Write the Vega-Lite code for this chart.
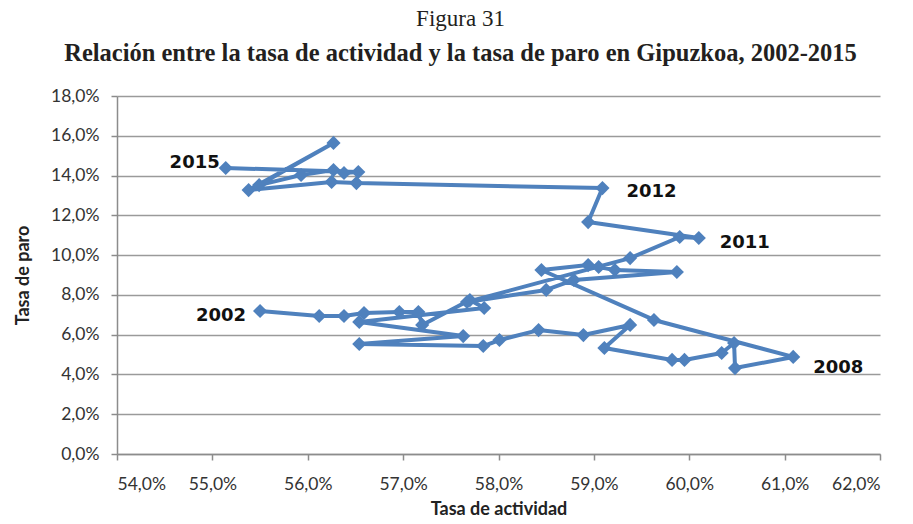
{
  "$schema": "https://vega.github.io/schema/vega-lite/v6.json",
  "autosize": "none",
  "width": 763,
  "height": 358,
  "padding": {"left": 117, "top": 96, "right": 33, "bottom": 70},
  "background": "white",
  "title": {
    "text": "Figura 31",
    "subtitle": "Relación entre la tasa de actividad y la tasa de paro en Gipuzkoa, 2002-2015",
    "anchor": "middle",
    "frame": "group",
    "dx": -38,
    "offset": 22,
    "font": "Liberation Serif",
    "fontSize": 23,
    "fontWeight": "normal",
    "color": "#231f20",
    "subtitleFont": "Liberation Serif",
    "subtitleFontSize": 24.5,
    "subtitleFontWeight": "bold",
    "subtitleColor": "#231f20",
    "subtitlePadding": 11
  },
  "data": {
    "values": [
      {"o": 1, "x": 55.50, "y": 7.19, "label": "2002"},
      {"o": 2, "x": 56.12, "y": 6.94},
      {"o": 3, "x": 56.38, "y": 6.94},
      {"o": 4, "x": 56.59, "y": 7.09},
      {"o": 5, "x": 56.96, "y": 7.14},
      {"o": 6, "x": 57.16, "y": 7.14},
      {"o": 7, "x": 57.20, "y": 6.49},
      {"o": 8, "x": 57.70, "y": 7.74},
      {"o": 9, "x": 57.85, "y": 7.34},
      {"o": 10, "x": 56.54, "y": 6.64},
      {"o": 11, "x": 57.63, "y": 5.93},
      {"o": 12, "x": 56.54, "y": 5.53},
      {"o": 13, "x": 57.84, "y": 5.43},
      {"o": 14, "x": 58.01, "y": 5.73},
      {"o": 15, "x": 58.42, "y": 6.23},
      {"o": 16, "x": 58.89, "y": 5.98},
      {"o": 17, "x": 59.38, "y": 6.49},
      {"o": 18, "x": 59.11, "y": 5.33},
      {"o": 19, "x": 59.82, "y": 4.73},
      {"o": 20, "x": 59.95, "y": 4.73},
      {"o": 21, "x": 60.34, "y": 5.08},
      {"o": 22, "x": 60.47, "y": 5.58},
      {"o": 23, "x": 60.48, "y": 4.32},
      {"o": 24, "x": 61.09, "y": 4.88, "label": "2008"},
      {"o": 25, "x": 59.63, "y": 6.74},
      {"o": 26, "x": 58.45, "y": 9.25},
      {"o": 27, "x": 58.94, "y": 9.50},
      {"o": 28, "x": 59.05, "y": 9.40},
      {"o": 29, "x": 59.22, "y": 9.25},
      {"o": 30, "x": 59.87, "y": 9.15},
      {"o": 31, "x": 58.79, "y": 8.75},
      {"o": 32, "x": 58.50, "y": 8.25},
      {"o": 33, "x": 57.67, "y": 7.64},
      {"o": 34, "x": 59.38, "y": 9.85},
      {"o": 35, "x": 59.90, "y": 10.91},
      {"o": 36, "x": 60.10, "y": 10.86, "label": "2011"},
      {"o": 37, "x": 58.94, "y": 11.66},
      {"o": 38, "x": 59.09, "y": 13.37, "label": "2012"},
      {"o": 39, "x": 56.51, "y": 13.62},
      {"o": 40, "x": 56.25, "y": 13.68},
      {"o": 41, "x": 55.38, "y": 13.27},
      {"o": 42, "x": 56.27, "y": 15.64},
      {"o": 43, "x": 55.49, "y": 13.52},
      {"o": 44, "x": 55.93, "y": 14.03},
      {"o": 45, "x": 56.27, "y": 14.28},
      {"o": 46, "x": 56.38, "y": 14.13},
      {"o": 47, "x": 56.53, "y": 14.18},
      {"o": 48, "x": 55.14, "y": 14.38, "label": "2015"}
    ]
  },
  "encoding": {
    "x": {
      "field": "x",
      "type": "quantitative",
      "scale": {"domain": [54, 62], "nice": false, "zero": false},
      "axis": {
        "title": "Tasa de actividad",
        "values": [54, 55, 56, 57, 58, 59, 60, 61, 62],
        "labelExpr": "replace(format(datum.value, '.1f'), '.', ',') + '%'",
        "grid": false,
        "domainColor": "#8c8c8c",
        "domainWidth": 1.5,
        "tickColor": "#8c8c8c",
        "tickWidth": 1.5,
        "tickSize": 6,
        "labelPadding": 15,
        "labelFont": "Lato",
        "labelFontSize": 17.5,
        "labelColor": "#333333",
        "titleFont": "Lato",
        "titleFontSize": 18,
        "titleFontWeight": "bold",
        "titleColor": "#222222",
        "titlePadding": 8
      }
    },
    "y": {
      "field": "y",
      "type": "quantitative",
      "scale": {"domain": [0, 18], "nice": false},
      "axis": {
        "title": "Tasa de paro",
        "values": [0, 2, 4, 6, 8, 10, 12, 14, 16, 18],
        "labelExpr": "replace(format(datum.value, '.1f'), '.', ',') + '%'",
        "grid": true,
        "gridColor": "#9a9a9a",
        "gridWidth": 1.5,
        "domainColor": "#8c8c8c",
        "domainWidth": 1.5,
        "tickColor": "#8c8c8c",
        "tickWidth": 1.5,
        "tickSize": 6,
        "labelPadding": 12,
        "labelFont": "Lato",
        "labelFontSize": 17.5,
        "labelColor": "#333333",
        "titleFont": "Lato",
        "titleFontSize": 18,
        "titleFontWeight": "bold",
        "titleColor": "#222222",
        "titlePadding": 18
      }
    }
  },
  "layer": [
    {
      "mark": {"type": "line", "color": "#4f81bd", "strokeWidth": 4, "strokeJoin": "round"},
      "encoding": {"order": {"field": "o", "type": "quantitative"}}
    },
    {
      "mark": {"type": "point", "shape": "diamond", "filled": true, "size": 200, "color": "#4f81bd", "opacity": 1}
    },
    {
      "transform": [{"filter": "datum.label == '2002'"}],
      "mark": {"type": "text", "align": "right", "baseline": "middle", "dx": -14, "dy": 5, "font": "DejaVu Sans", "fontSize": 18, "fontWeight": "bold", "color": "#111111"},
      "encoding": {"text": {"field": "label"}}
    },
    {
      "transform": [{"filter": "datum.label == '2015'"}],
      "mark": {"type": "text", "align": "right", "baseline": "middle", "dx": -6, "dy": -5, "font": "DejaVu Sans", "fontSize": 18, "fontWeight": "bold", "color": "#111111"},
      "encoding": {"text": {"field": "label"}}
    },
    {
      "transform": [{"filter": "datum.label == '2008'"}],
      "mark": {"type": "text", "align": "left", "baseline": "middle", "dx": 20, "dy": 11, "font": "DejaVu Sans", "fontSize": 18, "fontWeight": "bold", "color": "#111111"},
      "encoding": {"text": {"field": "label"}}
    },
    {
      "transform": [{"filter": "datum.label == '2011'"}],
      "mark": {"type": "text", "align": "left", "baseline": "middle", "dx": 21, "dy": 5, "font": "DejaVu Sans", "fontSize": 18, "fontWeight": "bold", "color": "#111111"},
      "encoding": {"text": {"field": "label"}}
    },
    {
      "transform": [{"filter": "datum.label == '2012'"}],
      "mark": {"type": "text", "align": "left", "baseline": "middle", "dx": 24, "dy": 4, "font": "DejaVu Sans", "fontSize": 18, "fontWeight": "bold", "color": "#111111"},
      "encoding": {"text": {"field": "label"}}
    }
  ],
  "config": {"view": {"stroke": null}}
}
